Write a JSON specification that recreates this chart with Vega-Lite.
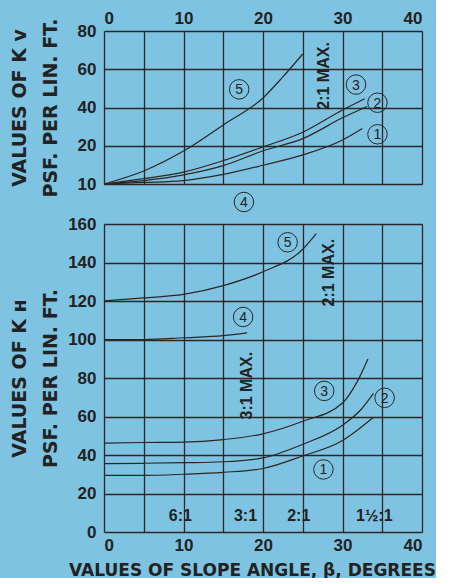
{
  "$schema": "https://vega.github.io/schema/vega-lite/v6.json",
  "background": "#7ec3e2",
  "padding": {"left": 10, "top": 9, "right": 0, "bottom": 0},
  "config": {
    "view": {"stroke": null},
    "font": "Liberation Sans",
    "axis": {
      "labelFont": "Liberation Sans",
      "labelFontWeight": "bold",
      "labelFontSize": 17,
      "labelColor": "#222222",
      "labelOverlap": false,
      "ticks": false,
      "domain": false,
      "grid": true,
      "gridColor": "#2e2622",
      "gridWidth": 1.3,
      "gridOpacity": 1,
      "titleFont": "DejaVu Sans",
      "titleFontWeight": "bold",
      "titleFontSize": 19,
      "titleColor": "#222222"
    }
  },
  "datasets": {
    "kv": [
      {"curve": "5", "deg": 0, "val": 10}, {"curve": "5", "deg": 5, "val": 13.4}, {"curve": "5", "deg": 10, "val": 18.6}, {"curve": "5", "deg": 15, "val": 30.9}, {"curve": "5", "deg": 20, "val": 45}, {"curve": "5", "deg": 22.5, "val": 56}, {"curve": "5", "deg": 25, "val": 68},
      {"curve": "3", "deg": 0, "val": 10}, {"curve": "3", "deg": 5, "val": 11.4}, {"curve": "3", "deg": 10, "val": 13.1}, {"curve": "3", "deg": 15, "val": 16.1}, {"curve": "3", "deg": 20, "val": 19.7}, {"curve": "3", "deg": 25, "val": 27.1}, {"curve": "3", "deg": 30, "val": 38.7}, {"curve": "3", "deg": 32.8, "val": 44.6},
      {"curve": "2", "deg": 0, "val": 10}, {"curve": "2", "deg": 5, "val": 10.9}, {"curve": "2", "deg": 10, "val": 12.4}, {"curve": "2", "deg": 15, "val": 14.8}, {"curve": "2", "deg": 20, "val": 18.7}, {"curve": "2", "deg": 25, "val": 23.7}, {"curve": "2", "deg": 30, "val": 34.6}, {"curve": "2", "deg": 33.1, "val": 40.5},
      {"curve": "1", "deg": 0, "val": 10}, {"curve": "1", "deg": 5, "val": 10.4}, {"curve": "1", "deg": 10, "val": 10.9}, {"curve": "1", "deg": 15, "val": 12.5}, {"curve": "1", "deg": 20, "val": 14.9}, {"curve": "1", "deg": 25, "val": 17.6}, {"curve": "1", "deg": 30, "val": 23}, {"curve": "1", "deg": 32.5, "val": 29}
    ],
    "kvLab": [
      {"label": "5", "deg": 17, "val": 49.5},
      {"label": "3", "deg": 31.7, "val": 52},
      {"label": "2", "deg": 34.4, "val": 42.5},
      {"label": "1", "deg": 34.4, "val": 26},
      {"label": "4", "deg": 17.6, "val": 5.3}
    ],
    "kvNote": [
      {"label": "2:1 MAX.", "deg": 27.7, "val": 56.5}
    ],
    "kh": [
      {"curve": "5", "deg": 0, "val": 120}, {"curve": "5", "deg": 5, "val": 121.6}, {"curve": "5", "deg": 10, "val": 123.4}, {"curve": "5", "deg": 15, "val": 128}, {"curve": "5", "deg": 20, "val": 135.2}, {"curve": "5", "deg": 25, "val": 146.9}, {"curve": "5", "deg": 26.7, "val": 155},
      {"curve": "4", "deg": 0, "val": 100}, {"curve": "4", "deg": 5, "val": 100}, {"curve": "4", "deg": 10, "val": 100.9}, {"curve": "4", "deg": 15, "val": 102}, {"curve": "4", "deg": 18, "val": 103.4},
      {"curve": "3", "deg": 0, "val": 46.2}, {"curve": "3", "deg": 5, "val": 46.5}, {"curve": "3", "deg": 10, "val": 46.7}, {"curve": "3", "deg": 15, "val": 48}, {"curve": "3", "deg": 20, "val": 51}, {"curve": "3", "deg": 25, "val": 57.5}, {"curve": "3", "deg": 30, "val": 67}, {"curve": "3", "deg": 31.9, "val": 78.5}, {"curve": "3", "deg": 33.2, "val": 89.9},
      {"curve": "2", "deg": 0, "val": 35.5}, {"curve": "2", "deg": 5, "val": 35.7}, {"curve": "2", "deg": 10, "val": 36}, {"curve": "2", "deg": 15, "val": 36.5}, {"curve": "2", "deg": 20, "val": 38.5}, {"curve": "2", "deg": 25, "val": 45.6}, {"curve": "2", "deg": 30, "val": 55.5}, {"curve": "2", "deg": 32.3, "val": 63.5}, {"curve": "2", "deg": 33.9, "val": 72},
      {"curve": "1", "deg": 0, "val": 29.4}, {"curve": "1", "deg": 5, "val": 29.4}, {"curve": "1", "deg": 10, "val": 30}, {"curve": "1", "deg": 15, "val": 31}, {"curve": "1", "deg": 20, "val": 33}, {"curve": "1", "deg": 25, "val": 39.5}, {"curve": "1", "deg": 30, "val": 47.5}, {"curve": "1", "deg": 31.9, "val": 53}, {"curve": "1", "deg": 33.9, "val": 59.6}
    ],
    "khLab": [
      {"label": "5", "deg": 23.1, "val": 150.5},
      {"label": "4", "deg": 17.5, "val": 111.7},
      {"label": "3", "deg": 27.7, "val": 73.3},
      {"label": "2", "deg": 35.3, "val": 69.7},
      {"label": "1", "deg": 27.6, "val": 32.5}
    ],
    "khNote": [
      {"label": "2:1 MAX.", "deg": 28.3, "val": 134.7},
      {"label": "3:1 MAX.", "deg": 18.05, "val": 76}
    ],
    "khRatio": [
      {"label": "6:1", "deg": 9.6, "val": 8.3},
      {"label": "3:1", "deg": 17.8, "val": 8.3},
      {"label": "2:1", "deg": 24.5, "val": 8.3},
      {"label": "1½:1", "deg": 34, "val": 8.3}
    ]
  },
  "spacing": 40,
  "bounds": "flush",
  "vconcat": [
    {
      "width": 318,
      "height": 153,
      "encoding": {
        "x": {"field": "deg", "type": "quantitative", "scale": {"domain": [0, 40], "nice": false},
          "axis": {"orient": "top", "values": [0, 5, 10, 15, 20, 25, 30, 35, 40], "labelExpr": "datum.value % 10 === 0 ? datum.label : ''", "title": null, "labelPadding": 4}},
        "y": {"field": "val", "type": "quantitative", "scale": {"domain": [10, 20, 80], "range": [153, 114.75, 0], "nice": false, "zero": false},
          "axis": {"values": [10, 20, 40, 60, 80], "title": ["VALUES OF K ᴠ", "PSF. PER LIN. FT."], "labelPadding": 8, "titleX": -75, "titleLineHeight": 31}}
      },
      "layer": [
        {
          "data": {"name": "kv"},
          "mark": {"type": "line", "color": "#2e2622", "strokeWidth": 1.2, "interpolate": "monotone"},
          "encoding": {"detail": {"field": "curve"}}
        },
        {
          "data": {"name": "kvLab"},
          "mark": {"type": "point", "shape": "circle", "size": 380, "filled": false, "stroke": "#2e2622", "strokeWidth": 1, "opacity": 1}
        },
        {
          "data": {"name": "kvLab"},
          "mark": {"type": "text", "fontSize": 14, "color": "#222222", "dy": 1},
          "encoding": {"text": {"field": "label"}}
        },
        {
          "data": {"name": "kvNote"},
          "mark": {"type": "text", "angle": 270, "fontSize": 16, "fontWeight": "bold", "color": "#222222"},
          "encoding": {"text": {"field": "label"}}
        }
      ]
    },
    {
      "width": 318,
      "height": 308,
      "encoding": {
        "x": {"field": "deg", "type": "quantitative", "scale": {"domain": [0, 40], "nice": false},
          "axis": {"values": [0, 5, 10, 15, 20, 25, 30, 35, 40], "labelExpr": "datum.value % 10 === 0 ? datum.label : ''", "title": "VALUES OF SLOPE ANGLE, β, DEGREES", "titleFontSize": 17, "labelPadding": 5, "titlePadding": 9, "titleX": 148}},
        "y": {"field": "val", "type": "quantitative", "scale": {"domain": [0, 160], "nice": false},
          "axis": {"values": [0, 20, 40, 60, 80, 100, 120, 140, 160], "title": ["VALUES OF K ʜ", "PSF. PER LIN. FT."], "labelPadding": 8, "titleX": -75, "titleLineHeight": 31}}
      },
      "layer": [
        {
          "data": {"name": "kh"},
          "mark": {"type": "line", "color": "#2e2622", "strokeWidth": 1.2, "interpolate": "monotone"},
          "encoding": {"detail": {"field": "curve"}}
        },
        {
          "data": {"name": "khLab"},
          "mark": {"type": "point", "shape": "circle", "size": 380, "filled": false, "stroke": "#2e2622", "strokeWidth": 1, "opacity": 1}
        },
        {
          "data": {"name": "khLab"},
          "mark": {"type": "text", "fontSize": 14, "color": "#222222", "dy": 1},
          "encoding": {"text": {"field": "label"}}
        },
        {
          "data": {"name": "khNote"},
          "mark": {"type": "text", "angle": 270, "fontSize": 16, "fontWeight": "bold", "color": "#222222"},
          "encoding": {"text": {"field": "label"}}
        },
        {
          "data": {"name": "khRatio"},
          "mark": {"type": "text", "fontSize": 16, "fontWeight": "bold", "color": "#222222"},
          "encoding": {"text": {"field": "label"}}
        }
      ]
    }
  ]
}
